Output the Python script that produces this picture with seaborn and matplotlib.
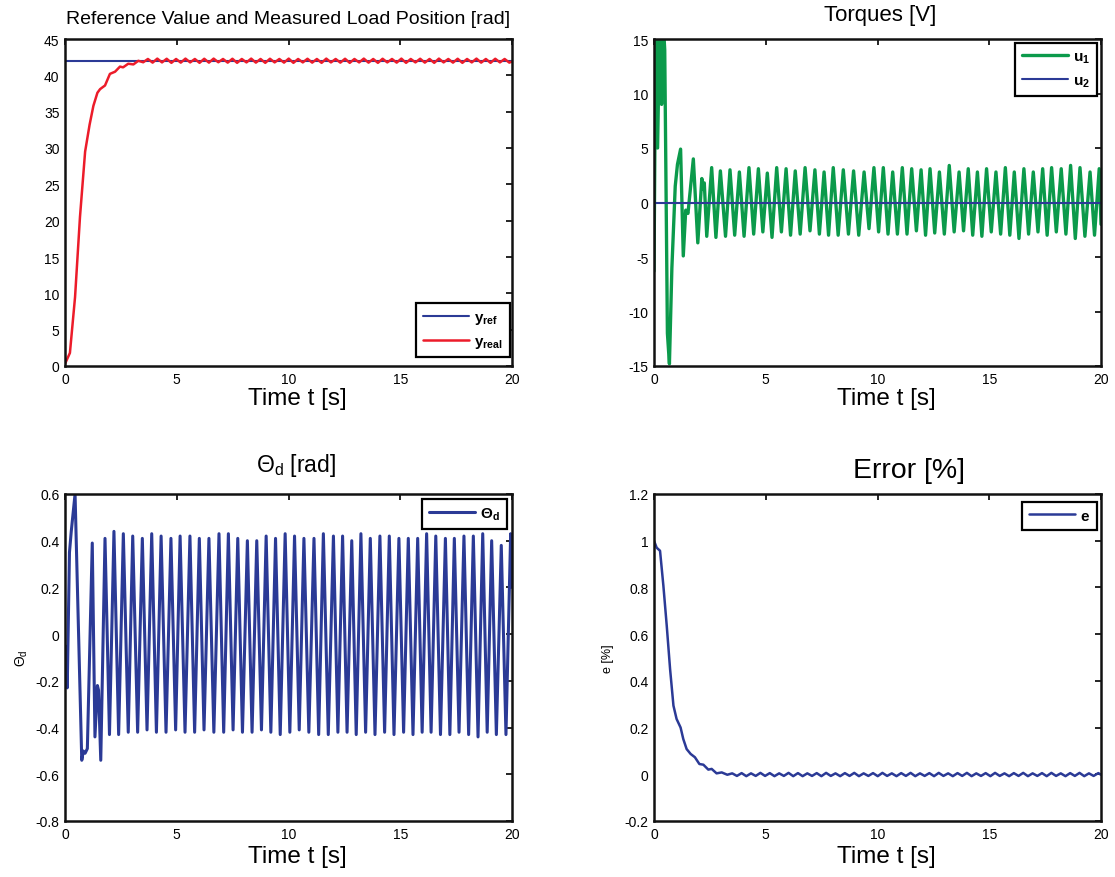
import numpy as np
import pandas as pd
import matplotlib
matplotlib.use("Agg")
import matplotlib.pyplot as plt
import seaborn as sns

# ---------------------------------------------------------------- data
# time axis limits and tick marks
t_lim = [0.0, 20.0]
x_ticks = [0, 5, 10, 15, 20]

# reference load position (constant) and measured load position
yref_t = [0.0, 20.0]
yref_v = [42.0, 42.0]

yreal_rise_t = [0.00, 0.22, 0.45, 0.67, 0.90, 1.10, 1.27, 1.45, 1.57, 1.70,
                1.79, 2.01, 2.24, 2.46, 2.60, 2.83, 3.06, 3.28]
yreal_rise_v = [0.3, 1.8, 9.5, 20.5, 29.5, 33.2, 35.8, 37.6, 38.1, 38.4,
                38.6, 40.2, 40.5, 41.2, 41.1, 41.6, 41.5, 42.0]

# turning points of the steady-state ripple (shared by y_real and e)
ripple_t = [3.50, 3.71, 3.92, 4.13, 4.34, 4.55, 4.76, 4.97, 5.18, 5.39,
            5.60, 5.81, 6.02, 6.23, 6.44, 6.65, 6.86, 7.07, 7.28, 7.49,
            7.70, 7.91, 8.12, 8.33, 8.54, 8.75, 8.96, 9.17, 9.38, 9.59,
            9.80, 10.01, 10.22, 10.43, 10.64, 10.85, 11.06, 11.27, 11.48, 11.69,
            11.90, 12.11, 12.32, 12.53, 12.74, 12.95, 13.16, 13.37, 13.58, 13.79,
            14.00, 14.21, 14.42, 14.63, 14.84, 15.05, 15.26, 15.47, 15.68, 15.89,
            16.10, 16.31, 16.52, 16.73, 16.94, 17.15, 17.36, 17.57, 17.78, 17.99,
            18.20, 18.41, 18.62, 18.83, 19.04, 19.25, 19.46, 19.67, 19.88, 20.00]
yreal_ripple_v = [41.80, 42.25, 41.75, 42.30, 41.78, 42.28, 41.72, 42.25, 41.75, 42.30,
                  41.78, 42.25, 41.72, 42.28, 41.75, 42.30, 41.80, 42.25, 41.75, 42.28,
                  41.72, 42.25, 41.78, 42.30, 41.75, 42.25, 41.72, 42.28, 41.78, 42.25,
                  41.75, 42.30, 41.72, 42.25, 41.78, 42.28, 41.75, 42.25, 41.72, 42.30,
                  41.78, 42.25, 41.75, 42.28, 41.72, 42.25, 41.78, 42.30, 41.75, 42.25,
                  41.72, 42.28, 41.78, 42.25, 41.75, 42.30, 41.72, 42.25, 41.78, 42.28,
                  41.75, 42.25, 41.72, 42.30, 41.78, 42.25, 41.75, 42.28, 41.72, 42.25,
                  41.78, 42.30, 41.75, 42.25, 41.72, 42.28, 41.78, 42.25, 41.75, 41.90]

# tracking error
e_rise_t = [0.00, 0.12, 0.27, 0.42, 0.57, 0.72, 0.87, 1.01, 1.19, 1.31,
            1.46, 1.64, 1.83, 2.03, 2.21, 2.43, 2.58, 2.80, 3.03, 3.28]
e_rise_v = [1.000, 0.970, 0.957, 0.807, 0.636, 0.450, 0.294, 0.237, 0.200, 0.151,
            0.108, 0.087, 0.073, 0.044, 0.041, 0.020, 0.023, 0.004, 0.008, -0.002]
e_ripple_v = [0.004, -0.007, 0.005, -0.008, 0.004, -0.007, 0.006, -0.007, 0.005, -0.008,
              0.004, -0.007, 0.006, -0.008, 0.005, -0.008, 0.004, -0.007, 0.005, -0.008,
              0.006, -0.007, 0.004, -0.008, 0.005, -0.007, 0.006, -0.008, 0.004, -0.007,
              0.005, -0.008, 0.006, -0.007, 0.004, -0.008, 0.005, -0.007, 0.006, -0.008,
              0.004, -0.007, 0.005, -0.008, 0.006, -0.007, 0.004, -0.008, 0.005, -0.007,
              0.006, -0.008, 0.004, -0.007, 0.005, -0.008, 0.006, -0.007, 0.004, -0.008,
              0.005, -0.007, 0.006, -0.008, 0.004, -0.007, 0.005, -0.008, 0.006, -0.007,
              0.004, -0.008, 0.005, -0.007, 0.006, -0.008, 0.004, -0.007, 0.005, -0.002]

# control torques u1 (oscillating) and u2 (zero)
u1_start_t = [0.00, 0.08, 0.16, 0.26, 0.34, 0.40, 0.48, 0.60, 0.69, 0.80,
              0.95, 1.05, 1.19, 1.31, 1.42, 1.52, 1.76, 1.96, 2.14, 2.20,
              2.25, 2.36, 2.58, 2.77, 2.97, 3.20]
u1_start_v = [-6.3, 17.0, 5.0, 17.0, 9.0, 17.0, 14.0, -12.0, -14.8, -6.0,
              1.5, 3.5, 4.9, -4.9, -0.7, -1.0, 4.0, -3.7, 2.2, 1.2,
              1.8, -3.1, 3.2, -3.2, 2.9, -3.1]
u1_peak_t = [3.40, 3.82, 4.25, 4.67, 5.07, 5.49, 5.91, 6.32, 6.76, 7.20,
             7.61, 8.02, 8.47, 8.93, 9.40, 9.84, 10.26, 10.68, 11.11, 11.53,
             11.95, 12.35, 12.77, 13.21, 13.65, 14.06, 14.47, 14.88, 15.30, 15.72,
             16.12, 16.55, 16.97, 17.39, 17.79, 18.22, 18.64, 19.06, 19.51, 19.92]
u1_peak_v = [3.0, 2.8, 3.2, 3.1, 2.7, 3.2, 3.1, 2.9, 3.2, 3.0,
             2.8, 3.2, 3.0, 2.9, 2.8, 3.2, 3.2, 2.8, 3.2, 3.1,
             3.0, 3.1, 2.8, 3.4, 2.8, 3.1, 2.8, 3.1, 2.8, 3.2,
             2.8, 3.1, 2.8, 3.1, 3.2, 3.1, 3.4, 3.2, 2.8, 3.1]
u1_trough_t = [3.61, 4.03, 4.46, 4.87, 5.28, 5.70, 6.11, 6.54, 6.98, 7.40,
               7.81, 8.24, 8.70, 9.16, 9.62, 10.05, 10.47, 10.89, 11.32, 11.74,
               12.15, 12.56, 12.99, 13.43, 13.85, 14.26, 14.67, 15.09, 15.51, 15.92,
               16.33, 16.76, 17.18, 17.59, 18.00, 18.43, 18.85, 19.28, 19.71, 20.00]
u1_trough_v = [-3.0, -3.1, -2.9, -2.7, -3.2, -2.7, -3.0, -2.9, -2.6, -2.9,
               -3.0, -3.0, -2.9, -3.0, -2.4, -2.7, -2.9, -2.9, -2.9, -2.6,
               -3.0, -2.8, -2.9, -2.7, -2.6, -3.0, -3.1, -2.7, -2.9, -3.0,
               -3.3, -2.9, -2.7, -3.0, -2.7, -2.9, -3.3, -3.1, -3.0, -2.0]
u2_t = [0.0, 20.0]
u2_v = [0.0, 0.0]

# deflection angle theta_d
theta_start_t = [0.00, 0.10, 0.20, 0.28, 0.45, 0.75, 0.82, 0.90, 1.00, 1.22,
                 1.34, 1.45, 1.50, 1.60]
theta_start_v = [-0.05, -0.23, 0.35, 0.44, 0.60, -0.54, -0.50, -0.51, -0.49, 0.39,
                 -0.44, -0.22, -0.24, -0.54]
theta_peak_t = [1.79, 2.19, 2.61, 3.03, 3.46, 3.88, 4.30, 4.74, 5.15, 5.59,
                6.01, 6.44, 6.89, 7.31, 7.73, 8.16, 8.58, 9.00, 9.42, 9.85,
                10.27, 10.69, 11.14, 11.56, 12.01, 12.42, 12.83, 13.24, 13.66, 14.09,
                14.51, 14.94, 15.36, 15.78, 16.18, 16.59, 17.02, 17.42, 17.85, 18.27,
                18.69, 19.09, 19.52, 19.94]
theta_peak_v = [0.41, 0.44, 0.43, 0.42, 0.41, 0.43, 0.42, 0.41, 0.42, 0.42,
                0.41, 0.41, 0.43, 0.43, 0.41, 0.40, 0.40, 0.42, 0.41, 0.43,
                0.42, 0.41, 0.41, 0.43, 0.42, 0.42, 0.40, 0.43, 0.41, 0.42,
                0.42, 0.41, 0.41, 0.41, 0.43, 0.42, 0.41, 0.41, 0.42, 0.42,
                0.43, 0.40, 0.38, 0.43]
theta_trough_t = [1.99, 2.40, 2.83, 3.25, 3.67, 4.09, 4.52, 4.95, 5.37, 5.80,
                  6.22, 6.66, 7.10, 7.52, 7.94, 8.37, 8.79, 9.21, 9.63, 10.06,
                  10.48, 10.91, 11.35, 11.78, 12.21, 12.62, 13.03, 13.45, 13.87, 14.30,
                  14.72, 15.15, 15.57, 15.98, 16.38, 16.80, 17.22, 17.63, 18.06, 18.48,
                  18.89, 19.30, 19.73, 20.00]
theta_trough_v = [-0.43, -0.43, -0.42, -0.42, -0.41, -0.42, -0.42, -0.41, -0.42, -0.42,
                  -0.41, -0.42, -0.42, -0.41, -0.42, -0.42, -0.41, -0.42, -0.43, -0.42,
                  -0.41, -0.42, -0.43, -0.43, -0.42, -0.42, -0.43, -0.42, -0.43, -0.42,
                  -0.43, -0.42, -0.43, -0.42, -0.42, -0.43, -0.43, -0.42, -0.43, -0.44,
                  -0.42, -0.43, -0.43, 0.20]

# axis ticks
pos_ticks = [0, 5, 10, 15, 20, 25, 30, 35, 40, 45]
pos_ticklabels = ["0", "5", "10", "15", "20", "25", "30", "35", "40", "45"]
torque_ticks = [-15, -10, -5, 0, 5, 10, 15]
torque_ticklabels = ["-15", "-10", "-5", "0", "5", "10", "15"]
theta_ticks = [-0.8, -0.6, -0.4, -0.2, 0.0, 0.2, 0.4, 0.6]
theta_ticklabels = ["-0.8", "-0.6", "-0.4", "-0.2", "0", "0.2", "0.4", "0.6"]
err_ticks = [-0.2, 0.0, 0.2, 0.4, 0.6, 0.8, 1.0, 1.2]
err_ticklabels = ["-0.2", "0", "0.2", "0.4", "0.6", "0.8", "1", "1.2"]

# ---------------------------------------------------------------- style
sns.set_style("white")
plt.rcParams["font.family"] = ["Liberation Sans", "DejaVu Sans"]
plt.rcParams["mathtext.fontset"] = "custom"
plt.rcParams["mathtext.rm"] = "Liberation Sans"
plt.rcParams["mathtext.it"] = "Liberation Sans:italic"
plt.rcParams["mathtext.bf"] = "Liberation Sans:bold"
plt.rcParams["text.color"] = "black"
plt.rcParams["axes.labelcolor"] = "black"
plt.rcParams["xtick.color"] = "black"
plt.rcParams["ytick.color"] = "black"

BLUE = "#2b3a96"
RED = "#ec1c2a"
GREEN = "#0b9a4b"


def join(*parts):
    """Merge (t, v) pieces into one time-ordered frame."""
    t = np.concatenate([np.asarray(p, float) for p in parts[0::2]])
    v = np.concatenate([np.asarray(p, float) for p in parts[1::2]])
    order = np.argsort(t, kind="stable")
    return pd.DataFrame({"t": t[order], "v": v[order]})


def line(ax, df, color, lw, label):
    sns.lineplot(data=df, x="t", y="v", ax=ax, color=color, linewidth=lw,
                 label=label, estimator=None, sort=False)


def frame(ax, ticks, ticklabels, ylim):
    ax.set_xlim(*t_lim)
    ax.set_ylim(*ylim)
    ax.set_xticks(x_ticks)
    ax.set_xticklabels([str(x) for x in x_ticks])
    ax.set_yticks(ticks)
    ax.set_yticklabels(ticklabels)
    ax.tick_params(direction="in", top=True, right=True, length=4, width=1.2,
                   labelsize=10, pad=4, colors="black")
    for s in ax.spines.values():
        s.set_visible(True)
        s.set_linewidth(1.8)
        s.set_color("#111111")
    ax.set_xlabel("Time t [s]", fontsize=17.5, color="black")
    ax.set_ylabel("")


def legend(ax, loc, anchor):
    leg = ax.legend(loc=loc, bbox_to_anchor=anchor, borderaxespad=0,
                    frameon=True, fancybox=False, framealpha=1, edgecolor="black",
                    fontsize=11, handlelength=3.0, handletextpad=0.35,
                    borderpad=0.45, labelspacing=0.55)
    leg.get_frame().set_linewidth(1.6)
    for txt in leg.get_texts():
        txt.set_color("black")
    return leg


fig = plt.figure(figsize=(11.15, 8.78), dpi=100)
W, H = 1115, 878


def add_axes(x0, x1, y0, y1):
    return fig.add_axes([x0 / W, 1 - y1 / H, (x1 - x0) / W, (y1 - y0) / H])


ax1 = add_axes(65, 512, 40, 367)
ax2 = add_axes(654, 1101, 40, 367)
ax3 = add_axes(65, 512, 495, 822)
ax4 = add_axes(654, 1101, 495, 822)

# --- load position
line(ax1, join(yref_t, yref_v), BLUE, 1.5, r"$\mathbf{y_{ref}}$")
line(ax1, join(yreal_rise_t, yreal_rise_v, ripple_t, yreal_ripple_v), RED, 1.8,
     r"$\mathbf{y_{real}}$")
frame(ax1, pos_ticks, pos_ticklabels, (0, 45))
legend(ax1, "lower right", (0.996, 0.027))
ax1.text(0.5, 1.063, "Reference Value and Measured Load Position [rad]",
         transform=ax1.transAxes, ha="center", va="center", fontsize=14)

# --- torques
line(ax2, join(u1_start_t, u1_start_v, u1_peak_t, u1_peak_v, u1_trough_t, u1_trough_v),
     GREEN, 2.4, r"$\mathbf{u_1}$")
line(ax2, join(u2_t, u2_v), BLUE, 1.5, r"$\mathbf{u_2}$")
frame(ax2, torque_ticks, torque_ticklabels, (-15, 15))
legend(ax2, "upper right", (0.991, 0.988))
ax2.text(0.505, 1.076, "Torques [V]", transform=ax2.transAxes,
         ha="center", va="center", fontsize=16)

# --- deflection angle
line(ax3, join(theta_start_t, theta_start_v, theta_peak_t, theta_peak_v,
               theta_trough_t, theta_trough_v), BLUE, 2.2, r"$\mathbf{\Theta_d}$")
frame(ax3, theta_ticks, theta_ticklabels, (-0.8, 0.6))
legend(ax3, "upper right", (0.989, 0.985))
ax3.text(0.517, 1.09, r"$\Theta_{\mathrm{d}}$ [rad]", transform=ax3.transAxes,
         ha="center", va="center", fontsize=16.5)
ax3.set_ylabel(r"$\Theta_{\mathrm{d}}$", fontsize=10)
ax3.yaxis.set_label_coords(-0.078, 0.5)

# --- error
line(ax4, join(e_rise_t, e_rise_v, ripple_t, e_ripple_v), BLUE, 1.8, r"$\mathbf{e}$")
frame(ax4, err_ticks, err_ticklabels, (-0.2, 1.2))
legend(ax4, "upper right", (0.991, 0.976))
ax4.text(0.57, 1.072, "Error [%]", transform=ax4.transAxes,
         ha="center", va="center", fontsize=20.5)
ax4.set_ylabel("e [%]", fontsize=9)
ax4.yaxis.set_label_coords(-0.090, 0.5)

for ax in (ax1, ax2):
    ax.xaxis.set_label_coords(0.519, -0.064)
for ax in (ax3, ax4):
    ax.xaxis.set_label_coords(0.519, -0.072)

fig.savefig("out.png", dpi=100, facecolor="white")
